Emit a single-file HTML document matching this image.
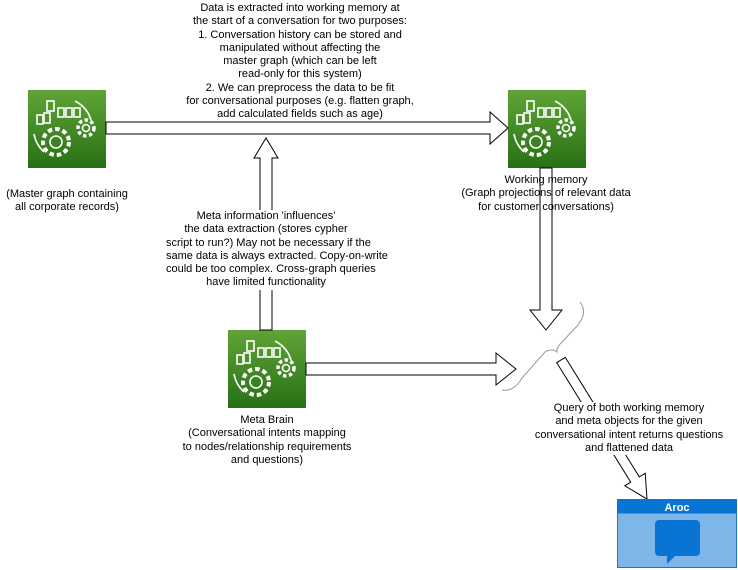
<!DOCTYPE html>
<html><head><style>
body{margin:0;background:#fff;width:738px;height:570px;overflow:hidden;position:relative;font-family:"Liberation Sans",Arial,sans-serif;font-size:11px;color:#000}
.t{position:absolute;text-align:center;line-height:13.3px;white-space:nowrap}
.bg{background:#fff}
</style></head><body>
<svg width="738" height="570" style="position:absolute;left:0;top:0">
<defs>
<linearGradient id="g" x1="0" y1="1" x2="0" y2="0"><stop offset="0" stop-color="#277116"/><stop offset="1" stop-color="#60a337"/></linearGradient>
<g id="ic">
<rect width="78" height="78" fill="url(#g)"/>
<g fill="none" stroke="#fff" stroke-width="1.6">
<rect x="19" y="11" width="7" height="10"/>
<rect x="30" y="18" width="6" height="9"/><rect x="38" y="18" width="6" height="9"/><rect x="46" y="18" width="6" height="9"/>
<rect x="9" y="25" width="6" height="9"/><rect x="16" y="23" width="6" height="10"/>
<path d="M47 11 A32 32 0 0 1 63 30"/><path d="M6 44 A32 32 0 0 0 16 62"/>
<circle cx="28" cy="52" r="13" stroke-dasharray="4.5 3" stroke-width="4"/><circle cx="28" cy="52" r="6"/>
<circle cx="58" cy="38" r="8" stroke-dasharray="3.5 2.5" stroke-width="3.5"/><circle cx="58" cy="38" r="3.5"/>
</g></g>
</defs>
<use href="#ic" x="28" y="90"/>
<use href="#ic" x="508" y="90"/>
<use href="#ic" x="228" y="330"/>
<g fill="#fff" stroke="#000" stroke-width="1">
<polygon points="106,122 490,122 490,112 508,128 490,144 490,134 106,134"/>
<polygon points="260,330 260,158 254,158 266,138 278,158 272,158 272,330"/>
<polygon points="540,168 540,310 530,310 546,330 562,310 552,310 552,168"/>
<polygon points="306,363 496,363 496,353 516,369 496,385 496,375 306,375"/>
<polygon points="556.7,362.6 565.3,357.4 639.3,476.9 645.2,473.2 647,499 624.8,485.8 630.7,482.1"/>
</g>
<path d="M580,302 Q588,312 578,325 L562,342 Q556,348 557,352 Q552,348 545,352 L522,378 Q514,392 502,390" fill="none" stroke="#999" stroke-width="1"/>
<rect x="617.5" y="499.5" width="119" height="68" fill="#7eb6e9" stroke="#1976d2"/>
<rect x="617.5" y="499.5" width="119" height="14" fill="#0a74d4"/>
<path d="M659 520 h37 a4 4 0 0 1 4 4 v28 a4 4 0 0 1 -4 4 h-21 l-8 8 v-8 h-8 a4 4 0 0 1 -4 -4 v-28 a4 4 0 0 1 4 -4z" fill="#0a74d4"/>
<text x="677" y="511" fill="#fff" font-size="11" font-weight="bold" text-anchor="middle" font-family="Liberation Sans">Aroc</text>
</svg>
<div class="t" style="left:150px;top:2px;width:300px">Data is extracted into working memory at<br>the start of a conversation for two purposes:<br>1. Conversation history can be stored and<br>manipulated without affecting the<br>master graph (which can be left<br>read-only for this system)<br>2. We can preprocess the data to be fit<br>for conversational purposes (e.g. flatten graph,<br>add calculated fields such as age)</div>
<div class="t" style="left:0px;top:188px;width:134px">(Master graph containing<br>all corporate records)</div>
<div class="t" style="left:430px;top:174px;width:232px">Working memory<br>(Graph projections of relevant data<br>for customer conversations)</div>
<div class="t bg" style="left:166px;top:210px;width:200px">Meta information 'influences'<br>the data extraction (stores cypher<br>script to run?) May not be necessary if the<br>same data is always extracted. Copy-on-write<br>could be too complex. Cross-graph queries<br>have limited functionality</div>
<div class="t" style="left:160px;top:414px;width:214px">Meta Brain<br>(Conversational intents mapping<br>to nodes/relationship requirements<br>and questions)</div>
<div class="t bg" style="left:522px;top:402px;width:214px">Query of both working memory<br>and meta objects for the given<br>conversational intent returns questions<br>and flattened data</div>
</body></html>
